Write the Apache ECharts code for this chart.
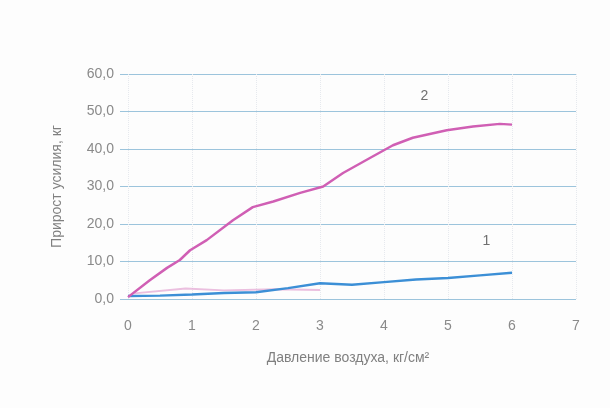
<!DOCTYPE html>
<html>
<head>
<meta charset="utf-8">
<script src="https://cdn.jsdelivr.net/npm/echarts@6/dist/echarts.min.js"></script>
<style>
  html, body { margin: 0; padding: 0; background: #fdfdfd; }
  #chart { width: 610px; height: 408px; }
</style>
</head>
<body>
<div id="chart"></div>
<script>
// кривая 2 (розовая)
const curve2 = [
  [0, 0.5], [0.34, 5], [0.61, 8.3], [0.81, 10.4], [0.97, 13], [1.23, 15.7],
  [1.64, 21], [1.95, 24.5], [2.27, 26], [2.69, 28.3], [3.05, 30], [3.36, 33.6],
  [3.78, 37.6], [4.14, 41], [4.45, 43], [4.98, 45], [5.39, 46], [5.81, 46.7], [6.0, 46.5]
];
// кривая 1 (синяя)
const curve1 = [
  [0, 0.8], [0.5, 0.9], [1, 1.2], [1.5, 1.6], [2, 1.8], [2.5, 2.9],
  [3, 4.2], [3.5, 3.8], [4, 4.5], [4.5, 5.2], [5, 5.6], [5.5, 6.3], [6, 7.0]
];
// бледный розовый след внизу
const pinkTrace = [
  [0.1, 1.5], [0.9, 2.8], [1.5, 2.3], [2.3, 2.6], [3, 2.4]
];
const xTicks = [0, 1, 2, 3, 4, 5, 6, 7];
const curveLabels = [
  { text: '1', coord: [5.6, 15.5] },
  { text: '2', coord: [4.63, 54] }
];

const chart = echarts.init(document.getElementById('chart'));

const markLabel = { show: true, formatter: p => p.name, color: '#707070', fontSize: 14, fontFamily: 'Liberation Sans' };

const option = {
  backgroundColor: '#fdfdfd',
  animation: false,
  grid: { left: 120, right: 34, top: 74, bottom: 109 },
  xAxis: {
    type: 'value',
    min: -0.125,
    max: 7,
    name: 'Давление воздуха, кг/см²',
    nameLocation: 'middle',
    nameGap: 52,
    nameTextStyle: { color: '#808080', fontSize: 14, fontFamily: 'Liberation Sans' },
    axisLine: { show: false },
    axisTick: { show: false, customValues: xTicks },
    axisLabel: {
      customValues: xTicks,
      color: '#8a8a8a',
      fontSize: 14,
      margin: 20,
      fontFamily: 'Liberation Sans'
    },
    splitLine: { show: true, lineStyle: { color: '#e6e9ee', type: 'dotted' } }
  },
  yAxis: {
    type: 'value',
    min: 0,
    max: 60,
    interval: 10,
    name: 'Прирост усилия, кг',
    nameLocation: 'middle',
    nameGap: 56,
    nameTextStyle: { color: '#808080', fontSize: 14, fontFamily: 'Liberation Sans' },
    axisLine: { show: false },
    axisTick: { show: false },
    axisLabel: {
      color: '#8a8a8a',
      fontSize: 14,
      margin: 6,
      fontFamily: 'Liberation Sans',
      formatter: v => v.toFixed(1).replace('.', ',')
    },
    splitLine: { lineStyle: { color: '#9cc4dc', width: 1 } }
  },
  series: [
    {
      name: 'pink trace',
      type: 'line',
      data: pinkTrace,
      showSymbol: false,
      lineStyle: { color: '#e2a4d2', width: 2, opacity: 0.7 }
    },
    {
      name: '1',
      type: 'line',
      data: curve1,
      showSymbol: false,
      lineStyle: { color: '#3c8fd6', width: 2.5 },
      markPoint: {
        symbol: 'circle',
        symbolSize: 0,
        label: markLabel,
        data: [{ name: curveLabels[0].text, coord: curveLabels[0].coord }]
      }
    },
    {
      name: '2',
      type: 'line',
      data: curve2,
      showSymbol: false,
      lineStyle: { color: '#d05fb4', width: 2.5 },
      markPoint: {
        symbol: 'circle',
        symbolSize: 0,
        label: markLabel,
        data: [{ name: curveLabels[1].text, coord: curveLabels[1].coord }]
      }
    }
  ]
};

chart.setOption(option);
</script>
</body>
</html>
